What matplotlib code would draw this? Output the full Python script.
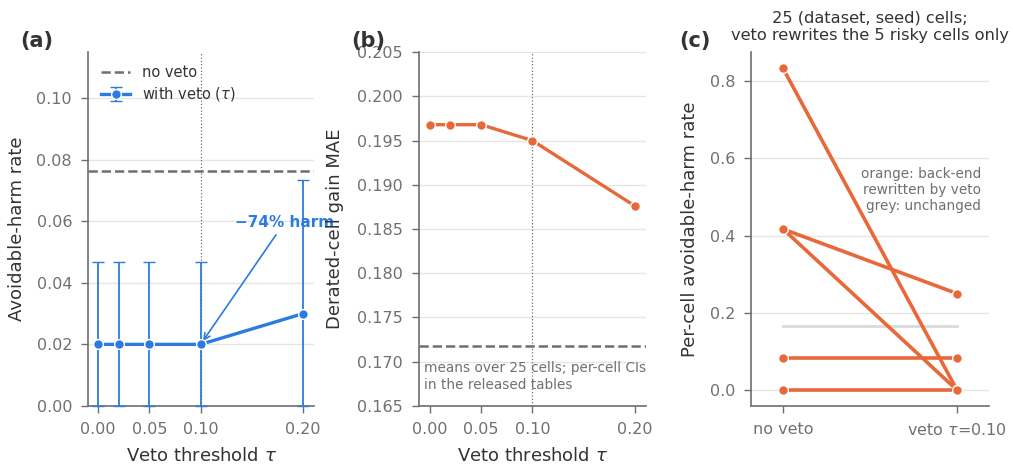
#!/usr/bin/env python3
"""veto_threshold_panels.py"""

import matplotlib
matplotlib.use("Agg")
import matplotlib.pyplot as plt

# ---- data ----
tau = [0.00, 0.02, 0.05, 0.10, 0.20]
harm_rate = [0.020, 0.020, 0.020, 0.020, 0.030]
harm_lo = [0.0, 0.0, 0.0, 0.0, 0.0]
harm_hi = [0.0467, 0.0467, 0.0467, 0.0467, 0.0733]
harm_no_veto = 0.0765

gain_mae = [0.1968, 0.1968, 0.1968, 0.1950, 0.1876]
gain_mae_no_veto = 0.1718

risky_before = [0.833, 0.417, 0.417, 0.083, 0.000]
risky_after = [0.000, 0.250, 0.000, 0.083, 0.000]
grey_before = [0.167]
grey_after = [0.167]
cell_labels = ["no veto", "veto $\\tau$=0.10"]

BLUE = "#2b7be0"
ORANGE = "#e8683a"
GREY = "#6e6e6e"
TICK = "#707070"
TEXT = "#333333"
GRID = "#e6e6e0"


def style(ax):
    for s in ("top", "right"):
        ax.spines[s].set_visible(False)
    for s in ("left", "bottom"):
        ax.spines[s].set_color(GREY)
        ax.spines[s].set_linewidth(1.2)
    ax.tick_params(colors=GREY, labelcolor=TICK, labelsize=11.5, length=5,
                   width=1, pad=6.5)
    ax.yaxis.grid(True, color=GRID, lw=1)
    ax.set_axisbelow(True)


def main():
    fig = plt.figure(figsize=(10.13, 4.66), dpi=100)
    bot, top = 0.129, 0.888
    ax_a = fig.add_axes([0.0869, bot, 0.310 - 0.0869, top - bot])
    ax_b = fig.add_axes([0.4136, bot, 0.6377 - 0.4136, top - bot])
    ax_c = fig.add_axes([0.7414, bot, 0.9763 - 0.7414, top - bot])

    # (a) avoidable harm vs tau
    style(ax_a)
    ax_a.axhline(harm_no_veto, color=GREY, ls="--", lw=1.8, label="no veto")
    ax_a.axvline(0.10, color=GREY, ls=":", lw=0.9)
    yerr = [[h - lo for h, lo in zip(harm_rate, harm_lo)],
            [hi - h for h, hi in zip(harm_rate, harm_hi)]]
    ax_a.errorbar(tau, harm_rate, yerr=yerr, color=BLUE, lw=2.4, marker="o",
                  ms=7, mec="white", mew=1, elinewidth=1.3, capsize=4,
                  capthick=1.3, label=r"with veto ($\tau$)", clip_on=False, zorder=3)
    ax_a.annotate("\u221274% harm", xy=(0.1015, 0.0207), xytext=(0.182, 0.0597),
                  color=BLUE, fontsize=11, fontweight="bold", ha="center", va="center",
                  arrowprops=dict(arrowstyle="->", color=BLUE, lw=1.2,
                                  shrinkA=2, shrinkB=1),
                  annotation_clip=False)
    ax_a.set_xlim(-0.0098, 0.2107)
    ax_a.set_ylim(0, 0.115)
    ax_a.set_xticks([0.0, 0.05, 0.10, 0.20])
    ax_a.set_xticklabels(["0.00", "0.05", "0.10", "0.20"])
    ax_a.set_yticks([0.0, 0.02, 0.04, 0.06, 0.08, 0.10])
    ax_a.set_yticklabels(["0.00", "0.02", "0.04", "0.06", "0.08", "0.10"])
    ax_a.set_xlabel(r"Veto threshold $\tau$", fontsize=13, color=TEXT, labelpad=7)
    ax_a.set_ylabel("Avoidable-harm rate", fontsize=13, color=TEXT)
    ax_a.yaxis.set_label_coords(-0.274, 0.5)
    ax_a.legend(loc="upper left", frameon=False, fontsize=10.5,
                bbox_to_anchor=(0.0, 1.0), handlelength=2.0, labelspacing=0.35,
                labelcolor=TEXT)

    # (b) derated-cell gain MAE vs tau
    style(ax_b)
    ax_b.axhline(gain_mae_no_veto, color=GREY, ls="--", lw=1.8)
    ax_b.axvline(0.10, color=GREY, ls=":", lw=0.9)
    ax_b.plot(tau, gain_mae, color=ORANGE, lw=2.4, marker="o", ms=7,
              mec="white", mew=1, zorder=3, clip_on=False)
    ax_b.text(-0.006, 0.1701, "means over 25 cells; per-cell CIs\nin the released tables",
              fontsize=9.8, color=TICK, ha="left", va="top", linespacing=1.3)
    ax_b.set_xlim(-0.0107, 0.2107)
    ax_b.set_ylim(0.165, 0.205)
    ax_b.set_xticks([0.0, 0.05, 0.10, 0.20])
    ax_b.set_xticklabels(["0.00", "0.05", "0.10", "0.20"])
    ax_b.set_yticks([0.165, 0.170, 0.175, 0.180, 0.185, 0.190, 0.195, 0.200, 0.205])
    ax_b.set_yticklabels(["0.165", "0.170", "0.175", "0.180", "0.185", "0.190",
                          "0.195", "0.200", "0.205"])
    ax_b.set_xlabel(r"Veto threshold $\tau$", fontsize=13, color=TEXT, labelpad=7)
    ax_b.set_ylabel("Derated-cell gain MAE", fontsize=13, color=TEXT)
    ax_b.yaxis.set_label_coords(-0.330, 0.5)

    # (c) per-cell slopegraph
    style(ax_c)
    for b, a in zip(grey_before, grey_after):
        ax_c.plot([0, 1], [b, a], color="#dcdcdc", lw=2.2, zorder=2)
    for b, a in zip(risky_before, risky_after):
        ax_c.plot([0, 1], [b, a], color=ORANGE, lw=2.6, marker="o", ms=7,
                  mec="white", mew=1, zorder=3)
    ax_c.text(1.138, 0.578, "orange: back-end\nrewritten by veto\ngrey: unchanged",
              fontsize=9.8, color=TICK, ha="right", va="top", linespacing=1.2)
    ax_c.set_xlim(-0.184, 1.184)
    ax_c.set_ylim(-0.041, 0.875)
    ax_c.set_xticks([0, 1])
    ax_c.set_xticklabels(cell_labels)
    ax_c.set_yticks([0.0, 0.2, 0.4, 0.6, 0.8])
    ax_c.set_ylabel("Per-cell avoidable-harm rate", fontsize=13, color=TEXT)
    ax_c.yaxis.set_label_coords(-0.218, 0.5)
    ax_c.set_title("25 (dataset, seed) cells;\nveto rewrites the 5 risky cells only",
                   fontsize=11.7, color=TEXT, pad=9, linespacing=1.15)

    for x, lab in [(0.0197, "(a)"), (0.347, "(b)"), (0.671, "(c)")]:
        fig.text(x, 0.912, lab, fontsize=15, fontweight="bold", color=TEXT,
                 ha="left", va="center")

    fig.savefig("out.png", dpi=100)


if __name__ == "__main__":
    main()
